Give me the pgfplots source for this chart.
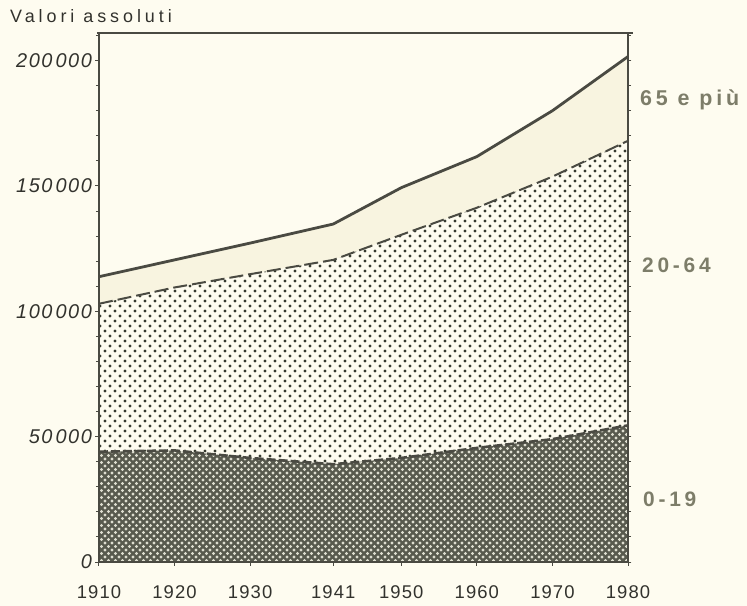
\documentclass[border=0pt]{standalone}
\usepackage{fontspec}
\setmainfont{Liberation Sans}
\newfontfamily\tickfont[LetterSpace=6]{Liberation Sans}
\newfontfamily\ytickfont[LetterSpace=8]{Liberation Sans}
\newfontfamily\titlefont[LetterSpace=22]{Liberation Sans}
\newfontfamily\labfont[LetterSpace=18]{Liberation Sans}
\usepackage{pgfplots}
\pgfplotsset{compat=1.18}
\usepackage{pgfplotstable}
\usetikzlibrary{patterns}

\definecolor{bgc}{RGB}{254,252,240}
\definecolor{oldc}{RGB}{248,244,224}
\definecolor{dotc}{RGB}{55,58,48}
\definecolor{darkc}{RGB}{88,90,78}
\definecolor{holec}{RGB}{222,222,208}
\definecolor{linec}{RGB}{74,74,66}
\definecolor{textc}{RGB}{50,50,45}
\definecolor{labc}{RGB}{125,125,105}

% halftone dots for 20-64
\pgfdeclarepatternformonly{sparsedots}{\pgfqpoint{-2bp}{-2bp}}{\pgfqpoint{7.5bp}{7.5bp}}{\pgfqpoint{10bp}{10bp}}{
  \pgfpathcircle{\pgfqpoint{0bp}{0bp}}{1.6bp}
  \pgfpathcircle{\pgfqpoint{5bp}{5bp}}{1.6bp}
  \pgfusepath{fill}}
% light holes in the dark 0-19 area
\pgfdeclarepatternformonly{holes}{\pgfqpoint{-1.8bp}{-1.8bp}}{\pgfqpoint{5.5bp}{5.5bp}}{\pgfqpoint{7bp}{7bp}}{
  \pgfpathcircle{\pgfqpoint{0bp}{0bp}}{1.6bp}
  \pgfpathcircle{\pgfqpoint{3.5bp}{3.5bp}}{1.6bp}
  \pgfusepath{fill}}

% young = top of 0-19, adult = top of 20-64, total = top of 65 e piu
\pgfplotstableread{
year young adult total
1910 44000 103000 113800
1920 44500 109500 120500
1930 41500 114800 127200
1941 39000 120500 134800
1950 41500 130500 149300
1960 45500 141300 161700
1970 49000 153700 180000
1980 54500 168000 201600
}\popdata

\begin{document}
\begin{tikzpicture}
\fill[bgc] (-99bp,-44bp) rectangle (648bp,562bp);

\begin{axis}[
    scale only axis,
    width=529bp,
    height=529bp,
    xmin=1910, xmax=1980,
    ymin=0, ymax=211000,
    axis on top,
    no markers,
    xtick={1910,1920,1930,1941,1950,1960,1970,1980},
    xticklabels={1910,1920,1930,1941,1950,1960,1970,1980},
    ytick={0,50000,100000,150000,200000},
    yticklabels={0,50\hspace{3bp}000,100\hspace{3bp}000,150\hspace{3bp}000,200\hspace{3bp}000},
    minor ytick={0,10000,...,210000},
    xtick pos=bottom,
    ytick pos=both,
    yticklabel pos=left,
    tick align=outside,
    major tick length=3.5bp,
    minor tick length=3bp,
    axis line style={color=linec, line width=1.4bp},
    tick style={color=linec, line width=1bp},
    scaled y ticks=false,
    xticklabel style={font=\tickfont\fontsize{18.5}{20}\selectfont, text=textc, yshift=-17bp},
    yticklabel style={font=\ytickfont\itshape\fontsize{20}{22}\selectfont, text=textc},
]
% areas
\addplot[draw=none, fill=oldc] table[x=year, y=total] {\popdata} \closedcycle;
\addplot[draw=none, fill=bgc, postaction={pattern=sparsedots, pattern color=dotc}] table[x=year, y=adult] {\popdata} \closedcycle;
\addplot[draw=none, fill=darkc, postaction={pattern=holes, pattern color=holec}] table[x=year, y=young] {\popdata} \closedcycle;
% borders
\addplot[linec, line width=2.8bp] table[x=year, y=total] {\popdata};
\addplot[linec, line width=2bp, dash pattern=on 14bp off 5bp] table[x=year, y=adult] {\popdata};
\addplot[linec, line width=2.6bp, dash pattern=on 9bp off 3bp] table[x=year, y=young] {\popdata};
\end{axis}
\draw[linec, line width=1.4bp] (-2bp,529bp) -- (534bp,529bp);

\node[anchor=base west, inner sep=0, text=textc, font=\titlefont\fontsize{18}{20}\selectfont] at (-89bp,539bp) {Valori assoluti};
\node[anchor=west, inner sep=0, text=labc, font=\labfont\bfseries\fontsize{21.5}{23}\selectfont] at (541bp,462bp) {65 e più};
\node[anchor=west, inner sep=0, text=labc, font=\labfont\bfseries\fontsize{21}{23}\selectfont] at (543bp,297bp) {20-64};
\node[anchor=west, inner sep=0, text=labc, font=\labfont\bfseries\fontsize{21}{23}\selectfont] at (544bp,63bp) {0-19};

\pgfresetboundingbox
\useasboundingbox (-99bp,-44bp) rectangle (648bp,562bp);
\end{tikzpicture}
\end{document}
